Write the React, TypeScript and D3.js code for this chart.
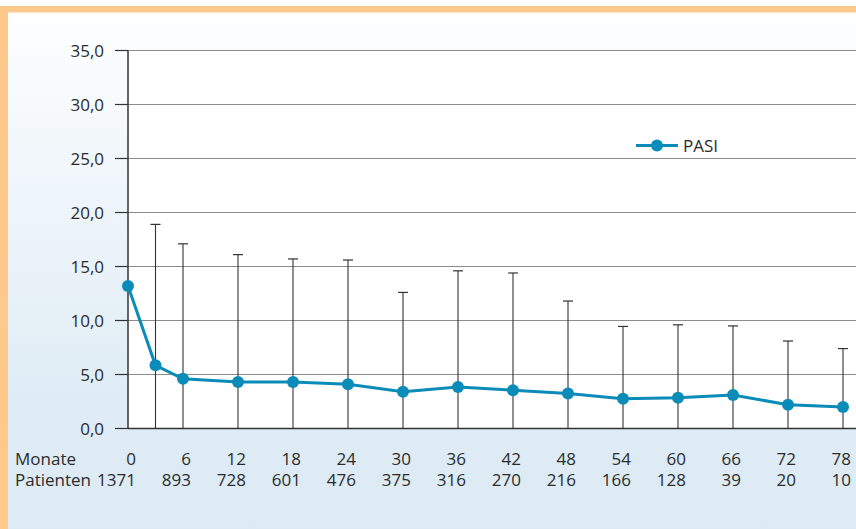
import React from "react";
import * as d3 from "d3";

const months = [0, 3, 6, 12, 18, 24, 30, 36, 42, 48, 54, 60, 66, 72, 78];
const pasiMean = [13.2, 5.85, 4.6, 4.3, 4.3, 4.1, 3.4, 3.85, 3.55, 3.25, 2.75, 2.85, 3.1, 2.2, 2.0];
const pasiUpper: (number | null)[] = [null, 18.9, 17.1, 16.1, 15.7, 15.6, 12.6, 14.6, 14.4, 11.8, 9.45, 9.6, 9.5, 8.1, 7.4];
const labelMonths = [0, 6, 12, 18, 24, 30, 36, 42, 48, 54, 60, 66, 72, 78];
const patients = ["1371", "893", "728", "601", "476", "375", "316", "270", "216", "166", "128", "39", "20", "10"];
const yTicks = [0, 5, 10, 15, 20, 25, 30, 35];
const seriesName = "PASI";

const W = 856;
const H = 529;
const FONT = "'Open Sans', sans-serif";
const TEXT = "#2b2b2b";
const BLUE = "#0a8bb8";

export default function App() {
  const x = d3.scaleLinear().domain([0, 78]).range([128, 843]);
  const y = d3.scaleLinear().domain([0, 35]).range([428.5, 50.5]);
  const line = d3
    .line<number>()
    .x((_, i) => x(months[i]))
    .y((d) => y(d));
  const fmt = (v: number) => d3.format(".1f")(v).replace(".", ",");

  return (
    <div style={{ position: "fixed", left: 0, top: 0 }}>
      <svg width={W} height={H} style={{ display: "block" }}>
        <defs>
          <linearGradient id="bg" x1="0" y1="0" x2="0" y2="1">
            <stop offset="0" stopColor="#fdfeff" />
            <stop offset="0.75" stopColor="#dfecf5" />
            <stop offset="1" stopColor="#dceaf3" />
          </linearGradient>
        </defs>
        <rect x={0} y={0} width={W} height={H} fill="#ffffff" />
        <rect x={0} y={6} width={W} height={H - 6} fill="#fec98a" />
        <rect x={8} y={12.5} width={W - 8} height={H - 12.5} fill="url(#bg)" />
        {/* plot area */}
        <rect x={128} y={y(35)} width={W - 128} height={y(0) - y(35)} fill="#ffffff" />
        {/* grid */}
        {yTicks.map((t) => (
          <g key={t}>
            {t > 0 && (
              <line x1={128} x2={W} y1={y(t)} y2={y(t)} stroke="#8c8c8c" strokeWidth={1.2} />
            )}
            <line x1={115} x2={128} y1={y(t)} y2={y(t)} stroke="#333" strokeWidth={1.2} />
            <text
              x={104}
              y={y(t)}
              dy="0.36em"
              textAnchor="end"
              fontFamily={FONT}
              fontSize={17}
              fill={TEXT}
            >
              {fmt(t)}
            </text>
          </g>
        ))}
        {/* error bars */}
        {months.map((m, i) =>
          pasiUpper[i] == null ? null : (
            <g key={m}>
              <line x1={x(m)} x2={x(m)} y1={y(0)} y2={y(pasiUpper[i] as number)} stroke="#333" strokeWidth={1.1} />
              <line
                x1={x(m) - 5}
                x2={x(m) + 5}
                y1={y(pasiUpper[i] as number)}
                y2={y(pasiUpper[i] as number)}
                stroke="#333"
                strokeWidth={1.2}
              />
            </g>
          )
        )}
        {/* axes */}
        <line x1={128} x2={128} y1={y(35)} y2={y(0)} stroke="#333" strokeWidth={1.5} />
        <line x1={128} x2={W} y1={y(0)} y2={y(0)} stroke="#333" strokeWidth={1.5} />
        {/* series */}
        <path d={line(pasiMean) || ""} fill="none" stroke={BLUE} strokeWidth={3} />
        {pasiMean.map((v, i) => (
          <circle key={i} cx={x(months[i])} cy={y(v)} r={6} fill={BLUE} />
        ))}
        {/* legend */}
        <line x1={636} x2={678} y1={145.5} y2={145.5} stroke={BLUE} strokeWidth={3} />
        <circle cx={657} cy={145.5} r={6} fill={BLUE} />
        <text x={683} y={145.5} dy="0.36em" fontFamily={FONT} fontSize={17} fill={TEXT}>
          {seriesName}
        </text>
        {/* x labels */}
        <text x={15} y={465} fontFamily={FONT} fontSize={17} fill={TEXT}>
          Monate
        </text>
        <text x={15} y={486} fontFamily={FONT} fontSize={17} fill={TEXT}>
          Patienten
        </text>
        {labelMonths.map((m, i) => (
          <g key={m}>
            <text x={x(m) + 8} y={465} textAnchor="end" fontFamily={FONT} fontSize={17} fill={TEXT}>
              {m}
            </text>
            <text x={x(m) + 8} y={486} textAnchor="end" fontFamily={FONT} fontSize={17} fill={TEXT}>
              {patients[i]}
            </text>
          </g>
        ))}
      </svg>
    </div>
  );
}
